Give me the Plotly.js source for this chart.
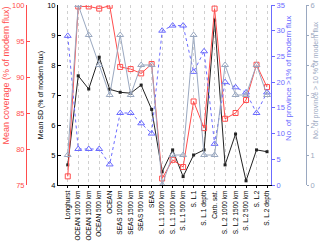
<!DOCTYPE html>
<html>
<head>
<meta charset="utf-8">
<script src="https://cdn.plot.ly/plotly-3.0.1.min.js"></script>
<style>html,body{margin:0;padding:0;background:#fff;}#chart{width:320px;height:241px;}</style>
</head>
<body>
<div id="chart"></div>
<script>
var categories = ["Longhurst","OCEAN 1000 km","OCEAN 1500 km","OCEAN 500 km","OCEAN",
  "SEAS 1000 km","SEAS 1500 km","SEAS 500 km","SEAS",
  "S. L.1 1000 km","S. L.1 1500 km","S. L.1 500 km","S. L.1","S. L.1 depth","Carb. sat.",
  "S. L.2 1000 km","S. L.2 1500 km","S. L.2 500 km","S. L.2","S. L.2 depth"];
var meanCoverage = [76.2,99.8,99.8,99.5,99.9,91.4,91.1,90.5,91.8,75.9,78.5,77.5,86.6,82.9,99.5,84.2,85.0,86.8,91.7,88.6];
var meanSD = [4.67,7.64,7.2,8.26,7.19,7.09,7.06,7.33,6.52,4.44,5.17,4.28,5.0,5.17,9.5,4.67,5.7,4.14,5.17,5.11];
var provinces1 = [29,7,7,7,4,14,14,12,10,30,31,31,22,26,8,20,19,18,14,18];
var provinces10 = [1,6,5,4,3,5,3,4,4,0,1,1,5,1,1,4,3,3,4,3];

var titleRed = "Mean coverage (% of modern flux)";
var titleBlack = "Mean SD (% of modern flux)";
var titleBlue = "No. of province >1% of modern flux";
var titleGrey = "No. of province > 10 % of modern flux";

var font = "Liberation Sans, Arial, sans-serif";
var red = "#ff4d4d", blue = "#6b6bff", grey = "#9aa8c0", black = "#222";

var traces = [
  {x: categories, y: provinces10, yaxis: "y4", type: "scatter", mode: "lines+markers",
   line: {color: grey, width: 1}, marker: {symbol: "triangle-up-open", size: 6, color: grey}},
  {x: categories, y: provinces1, yaxis: "y3", type: "scatter", mode: "lines+markers",
   line: {color: blue, width: 1, dash: "dot"}, marker: {symbol: "triangle-up-open", size: 6, color: blue}},
  {x: categories, y: meanSD, yaxis: "y", type: "scatter", mode: "lines+markers",
   line: {color: black, width: 1}, marker: {symbol: "square", size: 3, color: black}},
  {x: categories, y: meanCoverage, yaxis: "y2", type: "scatter", mode: "lines+markers",
   line: {color: red, width: 1}, marker: {symbol: "square-open", size: 5, color: red}}
];

var tf = {family: font, size: 7.5, color: "#000"};
var layout = {
  width: 320, height: 241,
  margin: {l: 0, r: 0, t: 5, b: 56, pad: 0},
  paper_bgcolor: "#fff", plot_bgcolor: "#fff",
  showlegend: false,
  font: {family: font, size: 7},
  xaxis: {domain: [58/320, 271/320], type: "category", range: [-0.93, 19.38],
    tickangle: -90, tickfont: {family: font, size: 6.5, color: "#000"},
    showgrid: true, gridcolor: "#d0d0d0", griddash: "dot", gridwidth: 1,
    showline: true, linecolor: "#000", linewidth: 1, ticks: "outside", ticklen: 2, tickcolor: "#000",
    zeroline: false},
  yaxis: {range: [4, 10], dtick: 1, showgrid: false, zeroline: false,
    showline: true, linecolor: "#000", linewidth: 1, ticks: "inside", ticklen: 3, tickcolor: "#000",
    tickfont: tf, title: {text: titleBlack, font: {family: font, size: 7, color: "#000"}, standoff: 2}},
  yaxis2: {overlaying: "y", side: "left", anchor: "free", position: 26/320, range: [75, 100], dtick: 5,
    showgrid: false, zeroline: false, showline: true, linecolor: red, linewidth: 1,
    ticks: "inside", ticklen: 3, tickcolor: red, tickfont: {family: font, size: 7.5, color: red}},
  yaxis3: {overlaying: "y", side: "right", anchor: "x", range: [0, 35], dtick: 5,
    showgrid: false, zeroline: false, showline: true, linecolor: blue, linewidth: 1,
    ticks: "outside", ticklen: 3, tickcolor: blue, tickfont: {family: font, size: 7.5, color: blue}},
  yaxis4: {overlaying: "y", side: "right", anchor: "free", position: 306/320, range: [0, 6], dtick: 1,
    showgrid: false, zeroline: false, showline: true, linecolor: grey, linewidth: 1,
    ticks: "outside", ticklen: 2, tickcolor: grey, tickfont: {family: font, size: 7.5, color: grey}},
  annotations: [
    {text: titleRed, xref: "paper", yref: "paper", x: 5.5/320, y: (185-76)/180, xanchor: "center", yanchor: "middle",
     textangle: -90, showarrow: false, font: {family: font, size: 9, color: red}},
    {text: titleBlue, xref: "paper", yref: "paper", x: 288/320, y: (185-79)/180, xanchor: "center", yanchor: "middle",
     textangle: -90, showarrow: false, font: {family: font, size: 8, color: blue}},
    {text: titleGrey, xref: "paper", yref: "paper", x: 316/320, y: (185-80)/180, xanchor: "center", yanchor: "middle",
     textangle: -90, showarrow: false, font: {family: font, size: 7, color: grey}}
  ]
};
Plotly.newPlot("chart", traces, layout, {displayModeBar: false, staticPlot: true});
</script>
</body>
</html>
